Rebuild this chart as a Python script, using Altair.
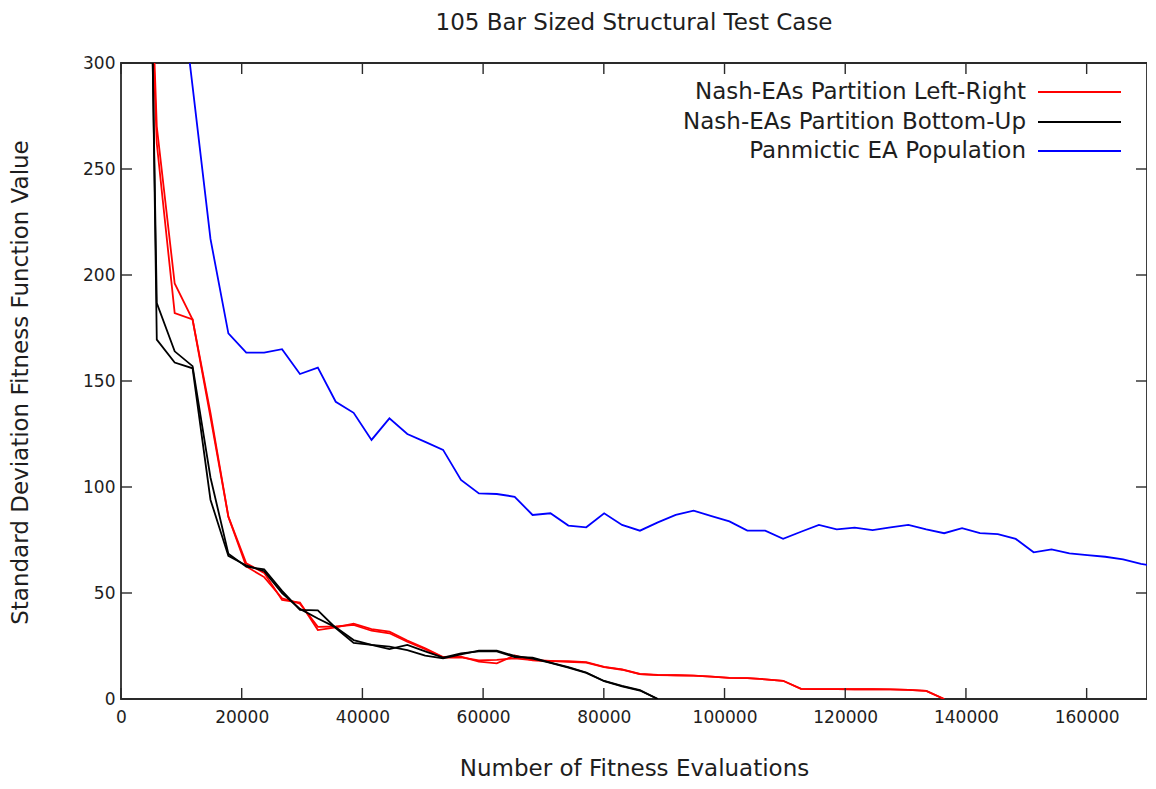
import altair as alt
import pandas as pd

# ---------------- data ----------------
x_all = [2965, 5930, 8895, 11860, 14825, 17790, 20755, 23720, 26685, 29650,
         32615, 35580, 38545, 41510, 44475, 47440, 50405, 53370, 56335, 59300,
         62265, 65230, 68195, 71160, 74125, 77090, 80055, 83020, 85985, 88950,
         91915, 94880, 97845, 100810, 103775, 106740, 109705, 112670, 115635, 118600,
         121565, 124530, 127495, 130460, 133425, 136390, 139355, 142320, 145285, 148250,
         151215, 154180, 157145, 160110, 163075, 166040, 169005, 171970]

red_a = [510, 270, 196, 179, 133, 86, 64, 59.5, 46.7, 45.5,
         32.5, 33.8, 35.5, 33, 31.8, 27.6, 23.9, 19.8, 20, 17.6,
         16.8, 20.5, 18.2, 17.9, 17.8, 17.4, 15.2, 14, 11.8, 11.4,
         11.2, 11, 10.6, 10, 9.8, 9.3, 8.6, 4.8, 4.7, 4.7,
         4.6, 4.6, 4.5, 4.3, 3.8, 0]
red_b = [490, 262, 182, 179, 135, 86, 62.5, 57.5, 47.5, 45,
         34, 34.2, 35, 32.2, 31, 27, 23.5, 19.5, 19.6, 18.2,
         18.5, 19.2, 18.4, 18, 17.5, 17.2, 15.0, 13.8, 11.7, 11.3,
         11.2, 11, 10.6, 10, 9.8, 9.3, 8.6, 4.8, 4.7, 4.7,
         4.6, 4.6, 4.5, 4.3, 3.8, 0]

black_a = [680, 186.8, 164, 157, 104.5, 68.5, 62.4, 61.2, 51, 42,
           41.8, 33.5, 26.5, 25.5, 23.5, 25.5, 22.5, 19.5, 21.5, 22.5,
           22.5, 19.8, 19.5, 17.2, 15, 12.5, 8.5, 6.2, 4.2, 0]
black_b = [750, 169.5, 158.7, 156, 94, 67.5, 63, 60.3, 50, 42.5,
           38, 33.8, 27.8, 25.5, 24.7, 23.1, 20.5, 19.2, 21, 22.8,
           22.8, 20.3, 19, 17, 14.8, 12.3, 8.4, 6, 4, 0]

blue = [360, 289, 217, 172.5, 163.4, 163.4, 165, 153.3, 156.3, 140.2,
        135, 122.2, 132.4, 125, 121.3, 117.5, 103.3, 97, 96.7, 95.4,
        86.8, 87.6, 81.8, 81, 87.6, 82.1, 79.4, 83.3, 86.8, 88.8,
        86.3, 83.8, 79.4, 79.4, 75.6, 78.9, 82.1, 80, 80.8, 79.7,
        81, 82.1, 80, 78.2, 80.6, 78.2, 77.8, 75.5, 69.2, 70.6,
        68.7, 67.9, 67.1, 65.9, 63.7, 62.5]

series_names = ["Nash-EAs Partition Left-Right", "Nash-EAs Partition Bottom-Up", "Panmictic EA Population"]
series_colors = ["#ff0000", "#000000", "#0000ff"]

x_ticks = [0, 20000, 40000, 60000, 80000, 100000, 120000, 140000, 160000]
y_ticks = [0, 50, 100, 150, 200, 250, 300]

title_text = "105 Bar Sized Structural Test Case"
x_title = "Number of Fitness Evaluations"
y_title = "Standard Deviation Fitness Function Value"

# ---------------- build tables ----------------
def make_df(values, start, run):
    return pd.DataFrame({"x": x_all[start:start + len(values)], "v": values, "run": run})

red_df = pd.concat([make_df(red_a, 0, "a"), make_df(red_b, 0, "b")])
black_df = pd.concat([make_df(black_a, 0, "a"), make_df(black_b, 0, "b")])
blue_df = make_df(blue, 2, "a")

W, H = 1026, 636
FONT = "DejaVu Sans"
TXT = "#1e1e1e"
BORDER = "#2a2a2a"
TICK = 11
BIG = 23
LW = 1.8

xs = alt.Scale(domain=[0, 170000], nice=False, zero=False)
ys = alt.Scale(domain=[0, 300], nice=False, zero=False)

x_axis = alt.Axis(values=x_ticks, format="d", ticks=False, domain=False, grid=False,
                  labelFont=FONT, labelFontSize=17, labelColor=TXT, labelPadding=10,
                  labelFlush=False, labelOverlap=False,
                  title=x_title, titleFont=FONT, titleFontSize=BIG,
                  titleFontWeight="normal", titleColor=TXT, titleY=76,
                  titleBaseline="alphabetic")
y_axis = alt.Axis(values=y_ticks, format="d", ticks=False, domain=False, grid=False,
                  labelFont=FONT, labelFontSize=17, labelColor=TXT, labelPadding=6,
                  labelOverlap=False, labelFlush=False,
                  title=y_title, titleFont=FONT,
                  titleFontSize=BIG, titleFontWeight="normal", titleColor=TXT,
                  titleX=-101, titleY=H / 2 + 1, titleBaseline="middle", titleAlign="center",
                  titleAngle=270)

X = lambda f: alt.X(f, scale=xs, axis=x_axis)
Y = lambda f: alt.Y(f, scale=ys, axis=y_axis)


def line_layer(df, color):
    return alt.Chart(df).mark_line(clip=True, strokeWidth=LW, color=color).encode(
        x=X("x:Q"), y=Y("v:Q"), detail="run:N")


layers = [
    line_layer(red_df, series_colors[0]),
    line_layer(black_df, series_colors[1]),
    line_layer(blue_df, series_colors[2]),
]

xt_df = pd.DataFrame({"x": x_ticks})
yt_df = pd.DataFrame({"v": y_ticks})

layers += [
    alt.Chart(xt_df).mark_rule(color=BORDER, strokeWidth=1.4).encode(
        x=X("x:Q"), y=alt.value(H), y2=alt.value(H - TICK)),
    alt.Chart(xt_df).mark_rule(color=BORDER, strokeWidth=1.4).encode(
        x=X("x:Q"), y=alt.value(0), y2=alt.value(TICK)),
    alt.Chart(yt_df).mark_rule(color=BORDER, strokeWidth=1.4).encode(
        y=Y("v:Q"), x=alt.value(0), x2=alt.value(TICK)),
    alt.Chart(yt_df).mark_rule(color=BORDER, strokeWidth=1.4).encode(
        y=Y("v:Q"), x=alt.value(W), x2=alt.value(W - TICK)),
]

# legend (gnuplot style: right-aligned text, line sample on the right)
leg_rows = [29, 59, 88]
for name, col, ry in zip(series_names, series_colors, leg_rows):
    ldf = pd.DataFrame({"label": [name]})
    layers.append(
        alt.Chart(ldf).mark_text(align="right", baseline="middle", font=FONT, fontSize=BIG,
                                 color=TXT).encode(text="label:N", x=alt.value(905), y=alt.value(ry)))
    layers.append(
        alt.Chart(ldf).mark_rule(color=col, strokeWidth=LW).encode(
            x=alt.value(917), x2=alt.value(1000), y=alt.value(ry)))

# chart title drawn as text above the plot frame
tdf = pd.DataFrame({"label": [title_text]})
layers.append(
    alt.Chart(tdf).mark_text(align="center", baseline="alphabetic", font=FONT, fontSize=BIG,
                             color=TXT).encode(text="label:N", x=alt.value(W / 2), y=alt.value(-33)))

chart = alt.layer(*layers).properties(
    width=W, height=H,
    background="white",
    padding={"left": 113, "top": 55, "right": 0, "bottom": 82},
    autosize=alt.AutoSizeParams(type="none"),
).configure_view(stroke=BORDER, strokeWidth=1.8)

chart.save("out.html", embed_options={"renderer": "svg", "actions": False})
